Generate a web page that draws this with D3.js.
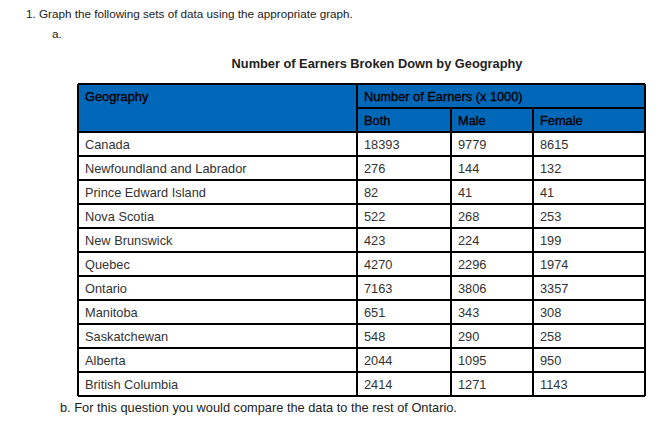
<!DOCTYPE html>
<html>
<head>
<meta charset="utf-8">
<script src="https://cdn.jsdelivr.net/npm/d3@7"></script>
<style>
  body { margin: 0; background: #fff; }
  svg text { font-family: "Liberation Sans", Arial, sans-serif; font-size: 12.8px; }
</style>
</head>
<body>
<div id="chart"></div>
<script>
// table data
const geography = [
  "Canada", "Newfoundland and Labrador", "Prince Edward Island", "Nova Scotia",
  "New Brunswick", "Quebec", "Ontario", "Manitoba", "Saskatchewan", "Alberta",
  "British Columbia"
];
const both   = [18393, 276, 82, 522, 423, 4270, 7163, 651, 548, 2044, 2414];
const male   = [9779, 144, 41, 268, 224, 2296, 3806, 343, 290, 1095, 1271];
const female = [8615, 132, 41, 253, 199, 1974, 3357, 308, 258, 950, 1143];
const subHeaders = ["Both", "Male", "Female"];

const width = 666, height = 423;
const blue = "#0067b9";

const svg = d3.select("#chart").append("svg")
  .attr("width", width).attr("height", height);

// column edges
const colX = [78, 357, 451, 533, 645];
const headTop = 84, headMid = 108, headBottom = 132;

let y = d3.scaleBand()
  .domain(geography)
  .range([headBottom, headBottom + 24 * geography.length]);

const tableBottom = y.range()[1];

// page text
svg.append("text").attr("x", 26).attr("y", 18).attr("fill", "#222")
  .style("font-size", "11.7px")
  .text("1. Graph the following sets of data using the appropriate graph.");
svg.append("text").attr("x", 52).attr("y", 38).attr("fill", "#222")
  .style("font-size", "11.7px").text("a.");
svg.append("text").attr("x", 377).attr("y", 68).attr("text-anchor", "middle")
  .attr("font-weight", "bold").attr("fill", "#222")
  .text("Number of Earners Broken Down by Geography");

// header background
svg.append("rect")
  .attr("x", colX[0]).attr("y", headTop)
  .attr("width", colX[4] - colX[0]).attr("height", headBottom - headTop)
  .attr("fill", blue);

const head = svg.append("g").attr("fill", "#000").attr("stroke", "#000").attr("stroke-width", 0.35);

head.append("text").attr("x", colX[0] + 7).attr("y", headTop + 17).text("Geography");
head.append("text").attr("x", colX[1] + 7).attr("y", headTop + 17).text("Number of Earners (x 1000)");

head.selectAll("text.sub")
  .data(subHeaders)
  .enter()
  .append("text")
  .attr("class", "sub")
  .attr("x", (d, i) => colX[i + 1] + 7)
  .attr("y", headMid + 17)
  .text(d => d);

// body cells
const rows = geography.map((g, i) => [g, both[i], male[i], female[i]]);

const rowG = svg.selectAll("g.row")
  .data(rows)
  .enter()
  .append("g")
  .attr("class", "row")
  .attr("transform", d => `translate(0, ${y(d[0])})`);

rowG.selectAll("text")
  .data(d => d)
  .enter()
  .append("text")
  .attr("x", (d, i) => colX[i] + 7)
  .attr("y", y.bandwidth() / 2 + 4.5)
  .attr("fill", "#333")
  .text(d => d);

// grid lines
const lines = svg.append("g").attr("stroke", "#000").attr("stroke-width", 1.2)
  .attr("shape-rendering", "crispEdges");

// horizontal lines
[headTop, headBottom].concat(geography.map(g => y(g) + y.bandwidth())).forEach(v => {
  lines.append("line").attr("x1", colX[0]).attr("x2", colX[4]).attr("y1", v).attr("y2", v);
});
lines.append("line").attr("x1", colX[1]).attr("x2", colX[4]).attr("y1", headMid).attr("y2", headMid);

// vertical lines
[colX[0], colX[1], colX[4]].forEach(v => {
  lines.append("line").attr("x1", v).attr("x2", v).attr("y1", headTop).attr("y2", tableBottom);
});
[colX[2], colX[3]].forEach(v => {
  lines.append("line").attr("x1", v).attr("x2", v).attr("y1", headMid).attr("y2", tableBottom);
});

svg.append("text").attr("x", 60).attr("y", 412).attr("fill", "#222")
  .text("b. For this question you would compare the data to the rest of Ontario.");
</script>
</body>
</html>
